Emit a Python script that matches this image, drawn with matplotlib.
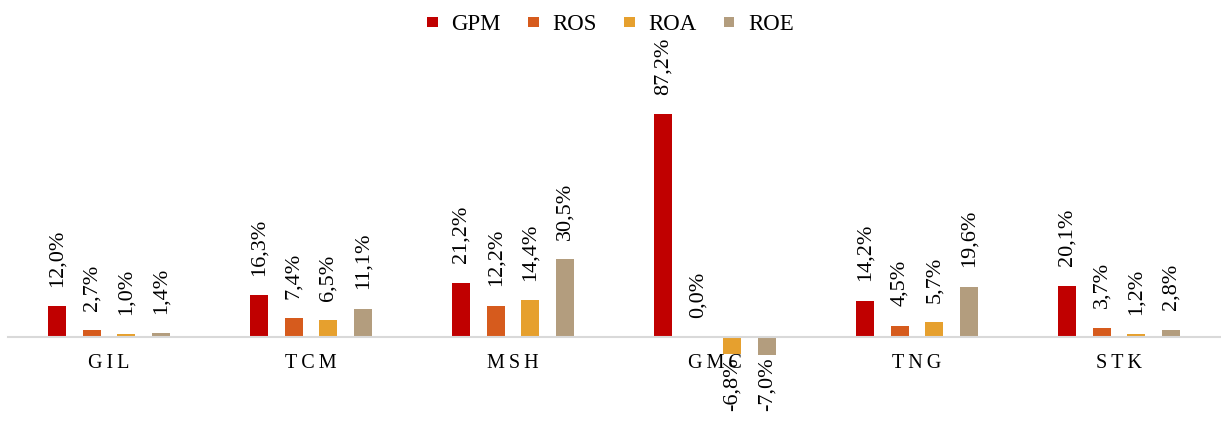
import numpy as np
import matplotlib.pyplot as plt

plt.rcParams['font.family'] = ['Liberation Serif', 'DejaVu Serif']

companies = ['GIL', 'TCM', 'MSH', 'GMC', 'TNG', 'STK']
series = ['GPM', 'ROS', 'ROA', 'ROE']
gpm = [12.0, 16.3, 21.2, 87.2, 14.2, 20.1]
ros = [2.7, 7.4, 12.2, 0.0, 4.5, 3.7]
roa = [1.0, 6.5, 14.4, -6.8, 5.7, 1.2]
roe = [1.4, 11.1, 30.5, -7.0, 19.6, 2.8]
colors = ['#C00000', '#D65B1D', '#E6A02E', '#B39D7E']

fig = plt.figure(figsize=(12.21, 4.21), dpi=100)
ax = fig.add_axes([8/1221, 0.1387, 1212/1221, 0.668])

x = np.arange(len(companies))
step = 0.171
w = 0.089
for i, (name, vals) in enumerate(zip(series, [gpm, ros, roa, roe])):
    xs = x + (i - 1.5) * step
    ax.bar(xs, vals, width=w, color=colors[i], label=name, zorder=2)
    for xi, v in zip(xs, vals):
        txt = f'{v:.1f}%'.replace('.', ',')
        if v >= 0:
            ax.annotate(txt, (xi, v), xytext=(0, 14), textcoords='offset points',
                        rotation=90, ha='center', va='bottom', fontsize=16,
                        annotation_clip=False)
        else:
            ax.annotate(txt, (xi, v), xytext=(0, -2), textcoords='offset points',
                        rotation=90, ha='center', va='top', fontsize=16,
                        annotation_clip=False)

ax.set_xlim(-0.5, len(companies) - 0.5)
ax.set_ylim(-10, 100)
ax.spines['bottom'].set_position(('data', 0))
ax.spines['bottom'].set_color('#D9D9D9')
ax.spines['bottom'].set_linewidth(1.5)
for s in ['top', 'right', 'left']:
    ax.spines[s].set_visible(False)
ax.set_yticks([])
ax.set_xticks(x)
ax.set_xticklabels(['\u2009'.join(c) for c in companies], fontsize=14.5)
ax.tick_params(axis='x', length=0, pad=12)

# square legend keys
fig.legend(loc='upper center', bbox_to_anchor=(0.5, 1.015), ncol=4, frameon=False,
           fontsize=16.5, handlelength=0.45, handleheight=0.32, columnspacing=1.2,
           handletextpad=0.6)

fig.savefig('out.png', dpi=100)
